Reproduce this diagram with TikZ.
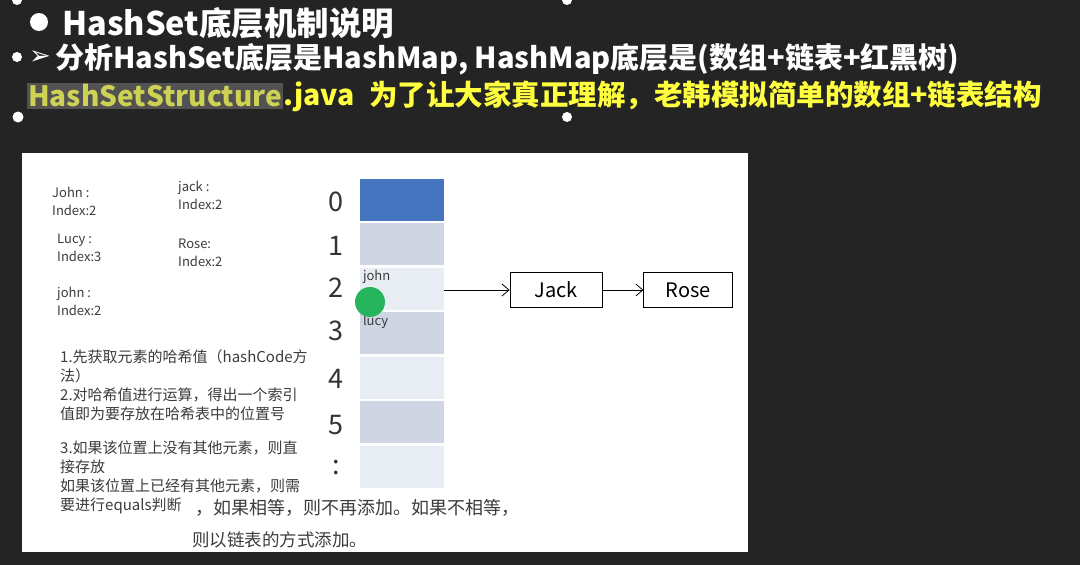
\documentclass[tikz,border=0pt]{standalone}
\usepackage{fontspec}
\setmainfont{Noto Sans CJK SC}
\newfontfamily\symfont{DejaVu Sans}
\usetikzlibrary{arrows.meta, positioning}

\definecolor{slidebg}{RGB}{36,36,36}
\definecolor{hilite}{RGB}{82,82,82}
\definecolor{codeyel}{RGB}{206,210,84}
\definecolor{noteyel}{RGB}{255,255,64}
\definecolor{cellblue}{RGB}{70,117,192}
\definecolor{cellgrey}{RGB}{207,213,227}
\definecolor{cellpale}{RGB}{232,236,243}
\definecolor{cursorgreen}{RGB}{38,180,92}
\definecolor{inkgrey}{RGB}{60,60,60}

\begin{document}
\begin{tikzpicture}[
    x=1pt, y=-1pt,
    head/.style={
      anchor=west,
      inner sep=0pt,
      text=white,
      font=\fontsize{32.5}{32.5}\selectfont\bfseries
    },
    sub/.style={
      anchor=west,
      inner sep=0pt,
      font=\fontsize{29}{29}\selectfont\bfseries
    },
    lab/.style={
      anchor=west,
      align=left,
      inner sep=0pt,
      text=inkgrey,
      font=\fontsize{13}{18}\selectfont
    },
    note/.style={
      inner sep=0pt,
      align=left,
      text=inkgrey,
      font=\fontsize{15}{19}\selectfont
    },
    idx/.style={
      inner sep=0pt,
      text=black!80,
      font=\fontsize{27}{27}\selectfont
    },
    cell/.style={
      minimum width=84pt,
      minimum height=42pt,
      inner sep=0pt
    },
    item/.style={
      draw,
      thick,
      minimum height=35pt,
      inner sep=0pt,
      font=\fontsize{20}{20}\selectfont
    },
    link/.style={
      thick,
      -{Straight Barb[length=7pt, width=12pt]}
    }
]
  % Slide background and frame
  \fill[slidebg] (0,0) rectangle (1080,565);
  \useasboundingbox (0,0) rectangle (1080,565);

  % Bullet dots
  \fill[white] (17,0) circle (5);
  \fill[white] (39,22) circle (9);
  \fill[white] (17,57) circle (5);
  \fill[white] (18,117) circle (5.5);
  \fill[white] (567,0) circle (5);
  \fill[white] (567,117) circle (5);

  % Heading lines
  \node[head] (title) at (62,23) {HashSet底层机制说明};
  \node[sub, text=white, font=\fontsize{26}{26}\selectfont] (arrowmark) at (29,58) {\symfont ➢};
  \node[sub, text=white] (line2) at (55,59) {分析HashSet底层是HashMap, HashMap底层是(数组+链表+红黑树)};
  \node[sub, text=codeyel, fill=hilite, inner xsep=1pt, inner ysep=2pt, font=\fontsize{28}{28}\selectfont\bfseries] (code) at (27,96) {HashSetStructure};
  \node[sub, text=noteyel, right=0pt of code, font=\fontsize{28.5}{28.5}\selectfont\bfseries] (line3) {.java\hspace{0.5em}为了让大家真正理解，老韩模拟简单的数组+链表结构};

  % White panel
  \fill[white] (22,153) rectangle (748,552);

  % Hash values of the elements
  \node[lab] (john1) at (52,201) {John :\\Index:2};
  \node[lab] (jack1) at (178,195) {jack :\\Index:2};
  \node[lab] (lucy1) at (57,248) {Lucy :\\Index:3};
  \node[lab] (rose1) at (178,253) {Rose:\\Index:2};
  \node[lab] (john2) at (57,301) {john :\\Index:2};

  % Steps
  \node[note, anchor=north west] (steps) at (60,349) {
    1.先获取元素的哈希值（hashCode方\\
    法）\\
    2.对哈希值进行运算，得出一个索引\\
    值即为要存放在哈希表中的位置号\\[15pt]
    3.如果该位置上没有其他元素，则直\\
    接存放\\
    如果该位置上已经有其他元素，则需\\
    要进行equals判断
  };
  \node[note, anchor=west, font=\fontsize{18}{18}\selectfont] (cmp1) at (195,508) {，如果相等，则不再添加。如果不相等，};
  \node[note, anchor=west, font=\fontsize{17.5}{17.5}\selectfont] (cmp2) at (192,540) {则以链表的方式添加。};

  % Table array
  \foreach \i/\c in {0/cellblue,1/cellgrey,2/cellpale,3/cellgrey,4/cellpale,5/cellgrey,6/cellpale}{
    \node[cell, fill=\c] (cell\i) at (402,199.5+44.5*\i) {};
  }
  \foreach \i/\y in {0/202,1/246,2/288,3/331,4/379,5/425}{
    \node[idx] (num\i) at (336,\y) {\i};
  }
  \node[idx] (numdots) at (336,468) {:};

  \node[lab, anchor=north west, inner sep=3pt] (johncell) at (cell2.north west) {john};
  \node[lab, anchor=north west, inner sep=3pt] (lucycell) at (cell3.north west) {lucy};

  % Cursor mark
  \fill[cursorgreen] (370,302) circle (15);

  % Linked list
  \node[item, minimum width=92pt] (jack) at (556,290) {Jack};
  \node[item, minimum width=89pt, right=41pt of jack] (rose) {Rose};

  \draw[link] (jack.west -| cell2.east) -- (jack.west);
  \draw[link] (jack) -- (rose);
\end{tikzpicture}
\end{document}
